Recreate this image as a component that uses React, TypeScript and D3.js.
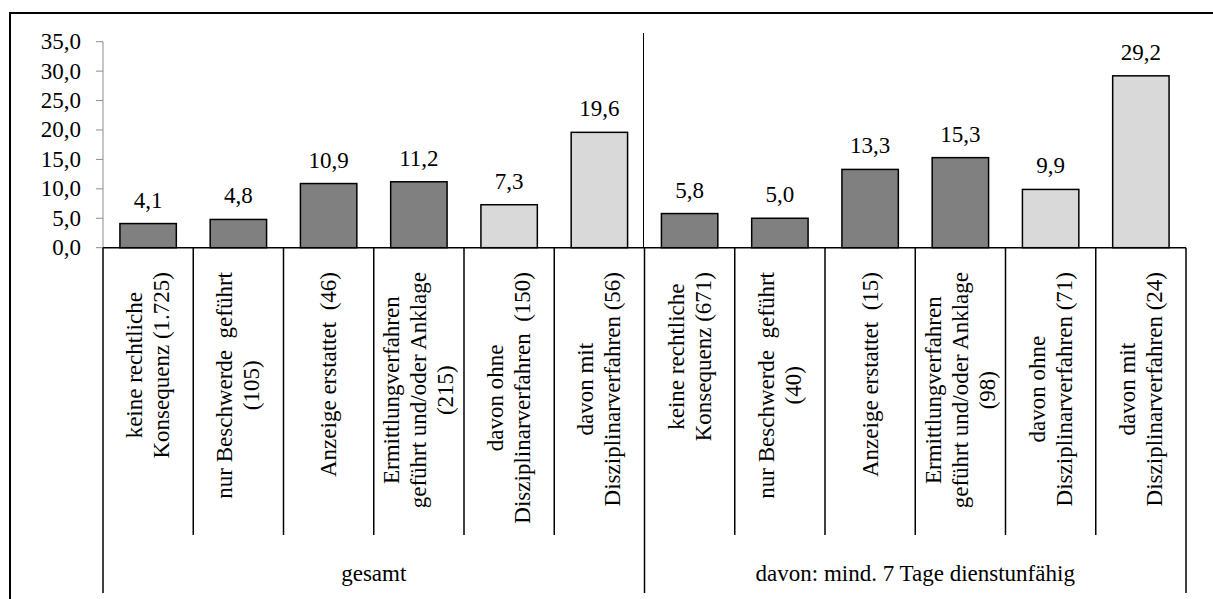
import React, { useEffect, useRef } from "react";
import * as d3 from "d3";

const categories: string[][] = [
  ["keine rechtliche", "Konsequenz (1.725)"],
  ["nur Beschwerde  geführt", "(105)"],
  ["Anzeige erstattet  (46)"],
  ["Ermittlungverfahren", "geführt und/oder Anklage", "(215)"],
  ["davon ohne", "Disziplinarverfahren  (150)"],
  ["davon mit", "Disziplinarverfahren (56)"],
  ["keine rechtliche", "Konsequenz (671)"],
  ["nur Beschwerde  geführt", "(40)"],
  ["Anzeige erstattet  (15)"],
  ["Ermittlungverfahren", "geführt und/oder Anklage", "(98)"],
  ["davon ohne", "Disziplinarverfahren (71)"],
  ["davon mit", "Disziplinarverfahren (24)"],
];
const values: number[] = [4.1, 4.8, 10.9, 11.2, 7.3, 19.6, 5.8, 5.0, 13.3, 15.3, 9.9, 29.2];
const barKind: string[] = ["dark", "dark", "dark", "dark", "light", "light", "dark", "dark", "dark", "dark", "light", "light"];
const groups: string[] = ["gesamt", "davon: mind. 7 Tage dienstunfähig"];
const groupSize = 6;
const yTicks: number[] = [0, 5, 10, 15, 20, 25, 30, 35];

const FONT = "Liberation Serif";

export default function App() {
  const ref = useRef<SVGSVGElement | null>(null);

  useEffect(() => {
    const svg = d3.select(ref.current);
    svg.selectAll("*").remove();

    const x0 = 103, x1 = 1186;
    const yTop = 41.7, yBase = 247.7;
    const fs = 23;

    const idx = categories.map((_, i) => i);
    const xBand = d3.scaleBand<number>().domain(idx).range([x0, x1]).padding(0);
    const xBar = d3.scaleBand<number>().domain(idx).range([x0, x1]).paddingInner(0.375).paddingOuter(0.1875);
    const y = d3.scaleLinear().domain([0, 35]).range([yBase, yTop]);

    const txt = (sel: any) => sel.style("font-family", FONT).style("font-size", fs + "px");

    // outer frame (cropped on right/bottom)
    svg.append("rect").attr("x", 10).attr("y", 13).attr("width", 1300).attr("height", 700)
      .attr("fill", "white").attr("stroke", "black").attr("stroke-width", 2);

    // y axis
    svg.append("line").attr("x1", x0).attr("x2", x0).attr("y1", y(35)).attr("y2", y(0))
      .attr("stroke", "#8c8c8c").attr("stroke-width", 1);
    yTicks.forEach((t) => {
      svg.append("line").attr("x1", x0 - 7).attr("x2", x0).attr("y1", y(t)).attr("y2", y(t))
        .attr("stroke", "#8c8c8c").attr("stroke-width", 1);
      txt(svg.append("text").attr("x", 81).attr("y", y(t)).attr("text-anchor", "end")
        .attr("dominant-baseline", "central"))
        .text(d3.format(".1f")(t).replace(".", ","));
    });

    // group separator above axis
    const sepX = xBand(groupSize)!;
    svg.append("line").attr("x1", sepX - 1).attr("x2", sepX - 1).attr("y1", 33).attr("y2", yBase)
      .attr("stroke", "black").attr("stroke-width", 1);

    // bars
    values.forEach((v, i) => {
      svg.append("rect").attr("x", xBar(i)!).attr("y", y(v)).attr("width", xBar.bandwidth())
        .attr("height", y(0) - y(v))
        .attr("fill", barKind[i] === "dark" ? "#808080" : "#d9d9d9")
        .attr("stroke", "black").attr("stroke-width", 1.5);
      txt(svg.append("text").attr("x", xBar(i)! + xBar.bandwidth() / 2).attr("y", y(v) - 16)
        .attr("text-anchor", "middle"))
        .text(d3.format(".1f")(v).replace(".", ","));
    });

    // x axis baseline
    svg.append("line").attr("x1", x0).attr("x2", x1).attr("y1", yBase).attr("y2", yBase)
      .attr("stroke", "black").attr("stroke-width", 1.5);

    // dividers
    for (let i = 0; i <= categories.length; i++) {
      const xx = i < categories.length ? xBand(i)! : x1;
      const isGroup = i % groupSize === 0;
      svg.append("line").attr("x1", xx).attr("x2", xx).attr("y1", yBase).attr("y2", isGroup ? 593 : 535)
        .attr("stroke", "black").attr("stroke-width", 1.5);
    }

    // category labels (rotated)
    const lineH = 27;
    categories.forEach((lines, i) => {
      const g = svg.append("g");
      const texts = lines.map((ln, k) =>
        txt(g.append("text").attr("x", 0)
          .attr("y", (k - (lines.length - 1) / 2) * lineH)
          .attr("text-anchor", "middle").attr("dominant-baseline", "central"))
          .style("white-space", "pre")
          .text(ln)
      );
      const maxLen = d3.max(texts, (t: any) => (t.node() as SVGTextElement).getComputedTextLength()) || 0;
      const cx = xBand(i)! + xBand.bandwidth() / 2;
      const cy = 272 + maxLen / 2;
      g.attr("transform", `translate(${cx},${cy}) rotate(-90)`);
    });

    // group labels
    groups.forEach((gname, gi) => {
      const a = xBand(gi * groupSize)!;
      const b = gi * groupSize + groupSize < categories.length ? xBand(gi * groupSize + groupSize)! : x1;
      txt(svg.append("text").attr("x", (a + b) / 2).attr("y", 581).attr("text-anchor", "middle"))
        .text(gname);
    });
  }, []);

  return (
    <svg ref={ref} width={1213} height={599}
      style={{ position: "absolute", left: 0, top: 0, background: "white" }} />
  );
}
